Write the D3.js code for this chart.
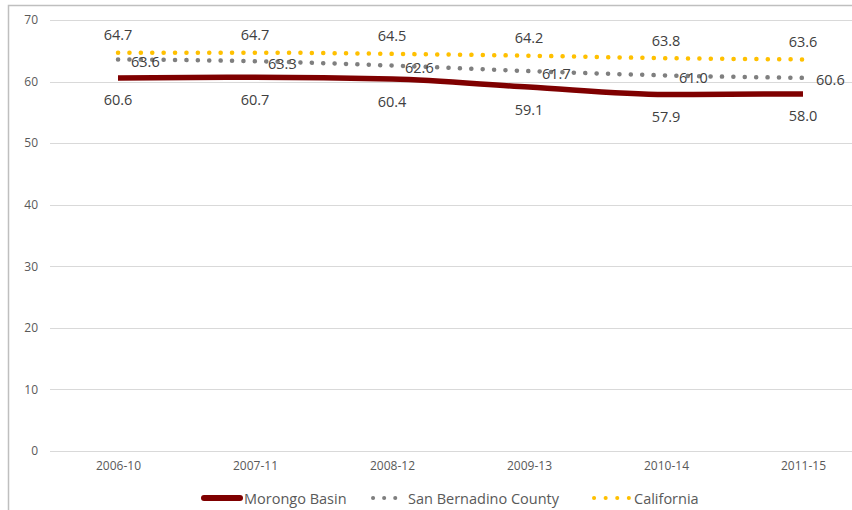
<!DOCTYPE html>
<html lang="en">
<head>
<meta charset="UTF-8">
<style>
    body { margin: 0; background: #fff; }
    text { font-family: "Open Sans", "Liberation Sans", sans-serif; }
    .grid line { stroke: #d9d9d9; stroke-width: 1; }
</style>
<title>Chart</title>
</head>
<body>
<script src="https://d3js.org/d3.v7.min.js"></script>
<script>
    var categories = ['2006-10', '2007-11', '2008-12', '2009-13', '2010-14', '2011-15'];
    var morongo = [60.6, 60.7, 60.4, 59.1, 57.9, 58.0];
    var sanBernardino = [63.6, 63.3, 62.6, 61.7, 61.0, 60.6];
    var california = [64.7, 64.7, 64.5, 64.2, 63.8, 63.6];
    var yTicks = [0, 10, 20, 30, 40, 50, 60, 70];

    var width = 852, height = 510;

    var svg = d3.select('body').append('svg')
        .attr('width', width).attr('height', height);

    // outer chart border (cropped at right/bottom in the original)
    svg.append('rect')
        .attr('x', 8.5).attr('y', 5.5)
        .attr('width', 900).attr('height', 600)
        .attr('fill', 'none').attr('stroke', '#bfbfbf').attr('stroke-width', 1.5);

    var x = d3.scalePoint().domain(categories).range([118, 803]);
    var y = d3.scaleLinear().domain([0, 70]).range([451, 20]);

    // gridlines
    svg.append('g').attr('class', 'grid')
        .selectAll('line').data(yTicks).enter().append('line')
        .attr('x1', 50).attr('x2', 872)
        .attr('y1', function (d) { return Math.round(y(d)) + 0.5; })
        .attr('y2', function (d) { return Math.round(y(d)) + 0.5; });

    // y axis labels
    var yAxis = svg.append('g').attr('transform', 'translate(38,0)')
        .call(d3.axisLeft(y).tickValues(yTicks).tickSize(0).tickPadding(0));
    yAxis.select('.domain').remove();
    yAxis.selectAll('text').attr('fill', '#595959').style('font-size', '12px')
        .style('font-family', '"Open Sans", sans-serif');

    // x axis labels
    var xAxis = svg.append('g').attr('transform', 'translate(0,461)')
        .call(d3.axisBottom(x).tickSize(0).tickPadding(0));
    xAxis.select('.domain').remove();
    xAxis.selectAll('text').attr('fill', '#595959').style('font-size', '12px')
        .style('font-family', '"Open Sans", sans-serif');

    var line = d3.line()
        .x(function (d, i) { return x(categories[i]); })
        .y(function (d) { return y(d); })
        .curve(d3.curveMonotoneX);

    svg.append('path').datum(california)
        .attr('d', line).attr('fill', 'none')
        .attr('stroke', '#ffc000').attr('stroke-width', 4.5)
        .attr('stroke-linecap', 'round').attr('stroke-dasharray', '0.1 11.3');

    svg.append('path').datum(sanBernardino)
        .attr('d', line).attr('fill', 'none')
        .attr('stroke', '#7f7f7f').attr('stroke-width', 4.5)
        .attr('stroke-linecap', 'round').attr('stroke-dasharray', '0.1 11.3');

    svg.append('path').datum(morongo)
        .attr('d', line).attr('fill', 'none')
        .attr('stroke', '#7f0000').attr('stroke-width', 5.5);

    // data labels
    function labels(data, dx, dy, anchor) {
        svg.append('g').selectAll('text').data(data).enter().append('text')
            .attr('x', function (d, i) { return x(categories[i]) + dx; })
            .attr('y', function (d) { return y(d) + dy; })
            .attr('text-anchor', anchor)
            .attr('dominant-baseline', 'central')
            .attr('fill', '#404040')
            .style('font-size', '14.5px')
            .text(function (d) { return d.toFixed(1); });
    }
    labels(california, 0, -18, 'middle');
    labels(sanBernardino, 13, 2, 'start');
    labels(morongo, 0, 22, 'middle');

    // legend
    var legend = svg.append('g').attr('transform', 'translate(0,498)');
    legend.append('line').attr('x1', 204).attr('x2', 240).attr('y1', 0).attr('y2', 0)
        .attr('stroke', '#7f0000').attr('stroke-width', 6).attr('stroke-linecap', 'round');
    legend.append('text').attr('x', 244).attr('y', 0).attr('dominant-baseline', 'central')
        .attr('fill', '#595959').style('font-size', '14.5px').text('Morongo Basin');

    legend.append('line').attr('x1', 373).attr('x2', 406).attr('y1', 0).attr('y2', 0)
        .attr('stroke', '#7f7f7f').attr('stroke-width', 4).attr('stroke-linecap', 'round')
        .attr('stroke-dasharray', '0.1 11');
    legend.append('text').attr('x', 408).attr('y', 0).attr('dominant-baseline', 'central')
        .attr('fill', '#595959').style('font-size', '14.5px').text('San Bernadino County');

    legend.append('line').attr('x1', 594).attr('x2', 630).attr('y1', 0).attr('y2', 0)
        .attr('stroke', '#ffc000').attr('stroke-width', 4).attr('stroke-linecap', 'round')
        .attr('stroke-dasharray', '0.1 11.5');
    legend.append('text').attr('x', 634).attr('y', 0).attr('dominant-baseline', 'central')
        .attr('fill', '#595959').style('font-size', '14.5px').text('California');
</script>
</body>
</html>
